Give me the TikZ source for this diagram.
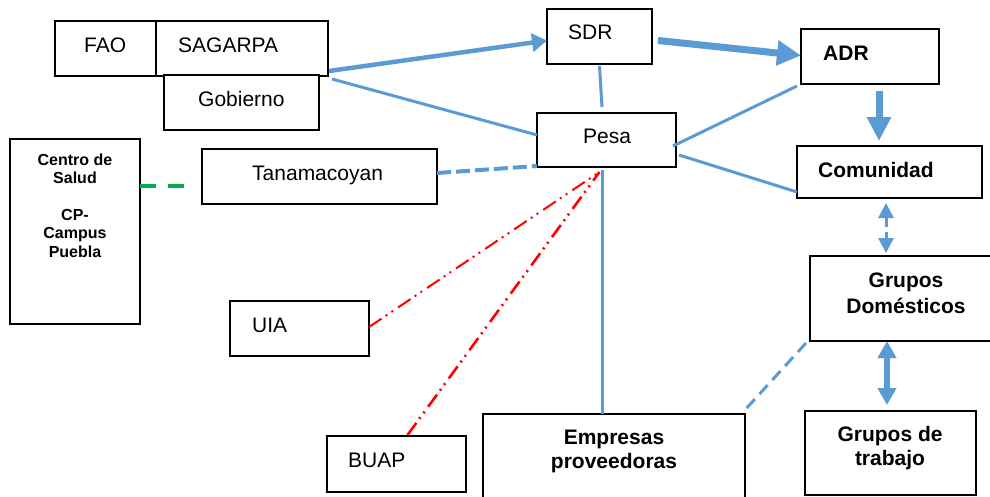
\documentclass[tikz,border=0pt]{standalone}
\usepackage{fontspec}
\setmainfont{Liberation Sans}
\usetikzlibrary{arrows.meta,calc}
\definecolor{lblue}{RGB}{91,155,213}
\definecolor{lgreen}{RGB}{0,176,80}
\begin{document}
\begin{tikzpicture}[x=1pt,y=-1pt,
  box/.style={draw=black, line width=2pt, fill=white, inner sep=0pt, outer sep=0pt},
  lbl/.style={inner sep=0pt, anchor=base west, font=\fontsize{21}{25}\selectfont},
  clbl/.style={inner sep=0pt, anchor=base, font=\fontsize{21}{25}\selectfont\bfseries},
  slbl/.style={inner sep=0pt, anchor=base, font=\fontsize{16}{19}\selectfont\bfseries},
  bline/.style={draw=lblue, line width=3pt},
  rline/.style={draw=red, line width=2pt, dash pattern=on 15pt off 5pt on 2pt off 5pt on 2pt off 6pt}]
\useasboundingbox (0,0) rectangle (990,496);

% boxes
\node[box, minimum width=101pt, minimum height=55pt] (fao) at (105.5,48.5) {};
\node[box, minimum width=172pt, minimum height=55pt] (sagarpa) at (242,48.5) {};
\node[box, minimum width=155pt, minimum height=55pt] (gob) at (241.5,102.5) {};
\node[box, minimum width=105pt, minimum height=55pt] (sdr) at (599.5,36.5) {};
\node[box, minimum width=138pt, minimum height=55pt] (adr) at (870,56.5) {};
\node[box, minimum width=139pt, minimum height=54pt] (pesa) at (606.5,140) {};
\node[box, minimum width=185pt, minimum height=52pt] (com) at (889.5,172) {};
\node[box, minimum width=130pt, minimum height=185pt] (centro) at (75,231.5) {};
\node[box, minimum width=235pt, minimum height=55pt] (tana) at (319.5,176.5) {};
\node[box, minimum width=139pt, minimum height=55pt] (uia) at (299.5,328.5) {};
\node[box, minimum width=139pt, minimum height=56pt] (buap) at (396.5,464) {};
\node[box, minimum width=262pt, minimum height=106pt] (emp) at (614,467) {};
\node[box, minimum width=193pt, minimum height=85pt] (gd) at (906.5,298.5) {};
\node[box, minimum width=171pt, minimum height=84pt] (gt) at (890.5,453) {};

% texts
\node[lbl] (tfao) at (84,52) {FAO};
\node[lbl] (tsag) at (178,52) {SAGARPA};
\node[lbl] (tgob) at (198,106) {Gobierno};
\node[lbl] (tsdr) at (568,39) {SDR};
\node[lbl, font=\fontsize{21}{25}\selectfont\bfseries] (tadr) at (823,60) {ADR};
\node[lbl] (tpesa) at (583,143) {Pesa};
\node[lbl, font=\fontsize{21}{25}\selectfont\bfseries] (tcom) at (818,177) {Comunidad};
\node[lbl] (ttana) at (252,180) {Tanamacoyan};
\node[lbl] (tuia) at (252,332) {UIA};
\node[lbl] (tbuap) at (348,467) {BUAP};
\node[clbl] (temp1) at (614,444) {Empresas};
\node[clbl] (temp2) at (614,468) {proveedoras};
\node[clbl] (tgd1) at (906,287) {Grupos};
\node[clbl] (tgd2) at (906,313) {Domésticos};
\node[clbl] (tgt1) at (890,441) {Grupos de};
\node[clbl] (tgt2) at (890,465) {trabajo};
\node[slbl] (tc1) at (75,165) {Centro de};
\node[slbl] (tc2) at (75,183) {Salud};
\node[slbl] (tc3) at (75,220) {CP-};
\node[slbl] (tc4) at (75,238) {Campus};
\node[slbl] (tc5) at (75,257) {Puebla};

% connectors
\draw[bline, line width=4.5pt, -{Triangle[length=15pt,width=18pt]}]
  ($(sagarpa.east)+(1,22.5)$) -- ($(sdr.west)+(0,4)$);
\draw[bline] ($(sagarpa.south east)+(4,3)$) -- ($(pesa.west)+(0,-5)$);
\draw[bline, line width=7pt, -{Triangle[length=24pt,width=24pt]}]
  ($(sdr.east)+(6,4)$) -- ($(adr.west)+(0,-1)$);
\draw[bline] ($(sdr.south)+(0,2)$) -- ($(pesa.north)+(-4.5,-6)$);
\draw[bline] ($(adr.south west)+(-4,2)$) -- ($(pesa.east)+(-3,6)$);
\draw[bline] ($(pesa.east)+(3,15)$) -- ($(com.south west)+(0,-6)$);
\draw[bline, line width=7pt, -{Triangle[length=24pt,width=23pt]}]
  ($(adr.south)+(9,7)$) -- ($(com.north)+(-10.5,-5)$);
\draw[bline, dash pattern=on 10pt off 5pt, {Triangle[length=15pt,width=15pt]}-{Triangle[length=15pt,width=15pt]}]
  ($(com.south)+(-3.5,5)$) -- ($(gd.north)+(-20.5,-3)$);
\draw[bline, line width=6pt, {Triangle[length=17pt,width=18pt]}-{Triangle[length=17pt,width=18pt]}]
  ($(gd.south)+(-19.5,0)$) -- ($(gt.north)+(-3.5,-6)$);
\draw[bline, dash pattern=on 12pt off 7pt] ($(gd.south west)+(-4,2)$) -- ($(emp.north east)+(-1,-3)$);
\draw[bline] ($(pesa.south)+(-4.5,3)$) -- ($(emp.north)+(-12,0)$);
\draw[bline, line width=4pt, dash pattern=on 14pt off 5pt] ($(tana.east)+(0,-3.5)$) -- ($(pesa.south west)+(0,-1)$);
\coordinate (gend) at (184,186);
\draw[draw=lgreen, line width=4pt, dash pattern=on 16pt off 12pt] ($(centro.east)+(0,-45.5)$) -- (gend);
\draw[rline] ($(uia.east)+(0,-1.5)$) -- ($(pesa.south)+(-7,5)$);
\draw[rline, line width=2.6pt] ($(buap.north)+(11,-1)$) -- ($(pesa.south)+(-7,5)$);
\end{tikzpicture}
\end{document}
